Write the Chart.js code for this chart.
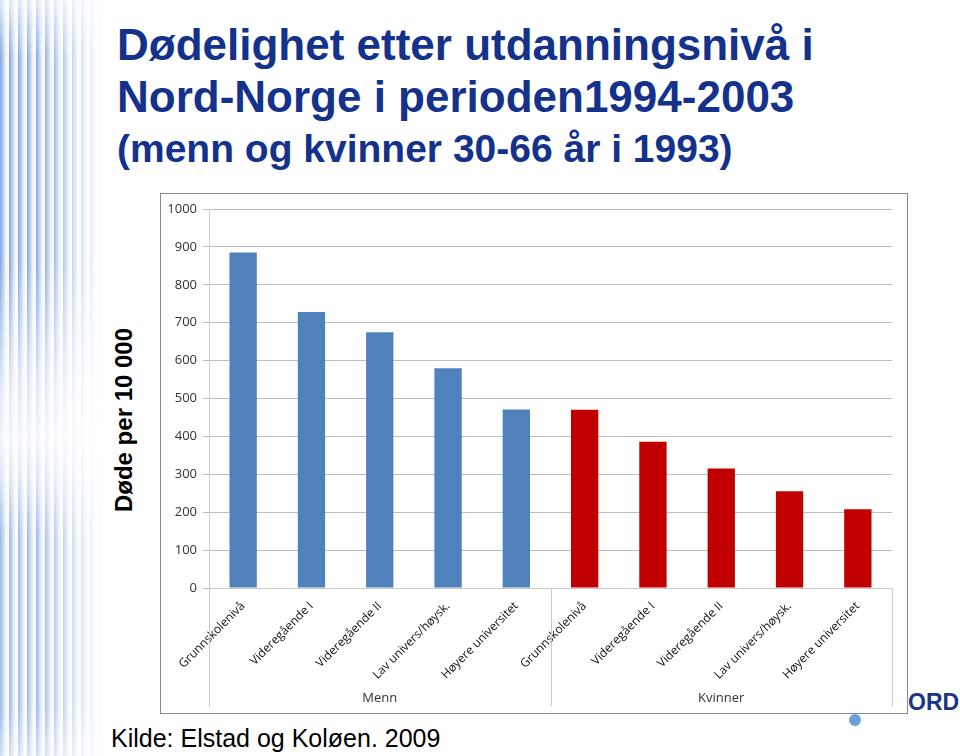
<!DOCTYPE html>
<html>
  <head>
    <title>Dødelighet etter utdanningsnivå</title>
    <script src="https://cdn.jsdelivr.net/npm/chart.js"></script>
    <style>
      body {
        margin: 0;
        width: 960px;
        height: 756px;
        position: relative;
        overflow: hidden;
        background: #fff;
        font-family: "Liberation Sans", Arial, sans-serif;
      }
      .stripes {
        position: absolute;
        left: 0;
        width: 110px;
        background:
          linear-gradient(to right, rgba(255,255,255,0) 0%, rgba(255,255,255,0) 35%, #fff 95%),
          repeating-linear-gradient(
            90deg,
            rgba(70, 115, 200, 0.65) 0px,
            rgba(90, 140, 215, 0.45) 3px,
            rgba(190, 210, 240, 0.25) 6px,
            rgba(255, 255, 255, 0.1) 9px
          );
      }
      .title {
        position: absolute;
        left: 117px;
        color: #14328c;
        font-weight: bold;
        white-space: nowrap;
        line-height: 1;
      }
      #ytitle {
        position: absolute;
        left: 124px;
        top: 420px;
        transform: translate(-50%, -50%) rotate(-90deg);
        font-family: "Liberation Sans", Arial, sans-serif;
        font-weight: bold;
        font-size: 24px;
        line-height: 24px;
        white-space: nowrap;
        color: #000;
      }
      #kilde {
        position: absolute;
        left: 111px;
        top: 726px;
        font-size: 25px;
        line-height: 1;
        color: #000;
        white-space: nowrap;
      }
      #logo {
        position: absolute;
        left: 908px;
        top: 691px;
        font-size: 23px;
        line-height: 1;
        font-weight: bold;
        color: #1a3581;
      }
      #dot {
        position: absolute;
        left: 849px;
        top: 714px;
        width: 12px;
        height: 12px;
        border-radius: 50%;
        background: #6fa0d8;
      }
      #box {
        position: absolute;
        left: 160px;
        top: 193px;
        width: 748px;
        height: 521px;
        box-sizing: border-box;
        border: 1px solid #8a8a8a;
        background: #fff;
      }
    </style>
  </head>
  <body>
    <div class="stripes" style="top: 0; height: 480px; -webkit-mask-image: linear-gradient(to bottom, rgba(0,0,0,0.3) 0%, #000 12%, #000 55%, rgba(0,0,0,0.3) 80%, transparent 100%)"></div>
    <div class="stripes" style="top: 440px; height: 316px; -webkit-mask-image: linear-gradient(to bottom, transparent 0%, rgba(0,0,0,0.8) 30%, rgba(0,0,0,0.8) 85%, rgba(0,0,0,0.4) 100%)"></div>

    <div class="title" style="top: 23px; font-size: 44px">Dødelighet etter utdanningsnivå i</div>
    <div class="title" style="top: 75px; font-size: 44px">Nord-Norge i perioden1994-2003</div>
    <div class="title" style="top: 129px; font-size: 39px">(menn og kvinner 30-66 år i 1993)</div>

    <div id="ytitle">Døde per 10 000</div>

    <div id="logo">ORD</div>
    <div id="dot"></div>

    <div id="box">
      <canvas id="bars" width="746" height="519"></canvas>
    </div>

    <div id="kilde">Kilde: Elstad og Koløen. 2009</div>

    <script>
      // data
      var educationLevels = [
        "Grunnskolenivå",
        "Videregående I",
        "Videregående II",
        "Lav univers/høysk.",
        "Høyere universitet",
      ];
      var groups = ["Menn", "Kvinner"];
      var mennValues = [885, 728, 675, 580, 471];
      var kvinnerValues = [470, 386, 315, 255, 208];
      var groupColors = ["#4f81bd", "#c00000"];
      var yTicks = [0, 100, 200, 300, 400, 500, 600, 700, 800, 900, 1000];

      var labels = educationLevels.concat(educationLevels);
      var values = mennValues.concat(kvinnerValues);
      var colors = mennValues
        .map(function () { return groupColors[0]; })
        .concat(kvinnerValues.map(function () { return groupColors[1]; }));

      // group separators + group names under the rotated labels
      var groupAxisPlugin = {
        id: "groupAxis",
        afterDraw: function (chart) {
          var ctx = chart.ctx;
          var x = chart.scales.x;
          var area = chart.chartArea;
          var n = educationLevels.length;
          var step = x.getPixelForValue(1) - x.getPixelForValue(0);
          var bottom = area.bottom + 118;
          ctx.save();
          ctx.strokeStyle = "#c8c8c8";
          ctx.lineWidth = 1;
          for (var g = 0; g <= groups.length; g++) {
            var px = Math.round(x.getPixelForValue(g * n) - step / 2) + 0.5;
            ctx.beginPath();
            ctx.moveTo(px, area.bottom);
            ctx.lineTo(px, bottom);
            ctx.stroke();
          }
          ctx.fillStyle = "#333333";
          ctx.font = "13px 'Open Sans', sans-serif";
          ctx.textAlign = "center";
          ctx.textBaseline = "middle";
          groups.forEach(function (name, g) {
            var cx = x.getPixelForValue(g * n + (n - 1) / 2);
            ctx.fillText(name, cx, area.bottom + 110);
          });
          ctx.restore();
        },
      };

      new Chart(document.getElementById("bars"), {
        type: "bar",
        data: {
          labels: labels,
          datasets: [
            {
              data: values,
              backgroundColor: colors,
              categoryPercentage: 1,
              barPercentage: 0.4,
            },
          ],
        },
        options: {
          responsive: false,
          animation: false,
          layout: { padding: { top: 15, right: 15, left: 0, bottom: 0 } },
          plugins: { legend: { display: false }, tooltip: { enabled: false } },
          scales: {
            x: {
              grid: { display: false },
              border: { color: "#c8c8c8" },
              ticks: {
                color: "#111111",
                font: { family: "'Open Sans', sans-serif", size: 12 },
                minRotation: 45,
                maxRotation: 45,
                autoSkip: false,
                padding: 3,
              },
              afterFit: function (scale) {
                scale.height = 125;
              },
            },
            y: {
              min: 0,
              max: 1000,
              afterBuildTicks: function (scale) {
                scale.ticks = yTicks.map(function (v) { return { value: v }; });
              },
              grid: { color: "#bdbdbd", tickLength: 6 },
              border: { color: "#cfcfcf" },
              ticks: {
                color: "#333333",
                font: { family: "'Open Sans', sans-serif", size: 13 },
                padding: 6,
                callback: function (v) { return String(v); },
              },
              afterFit: function (scale) {
                scale.width = 48;
              },
            },
          },
        },
        plugins: [groupAxisPlugin],
      });
    </script>
  </body>
</html>
